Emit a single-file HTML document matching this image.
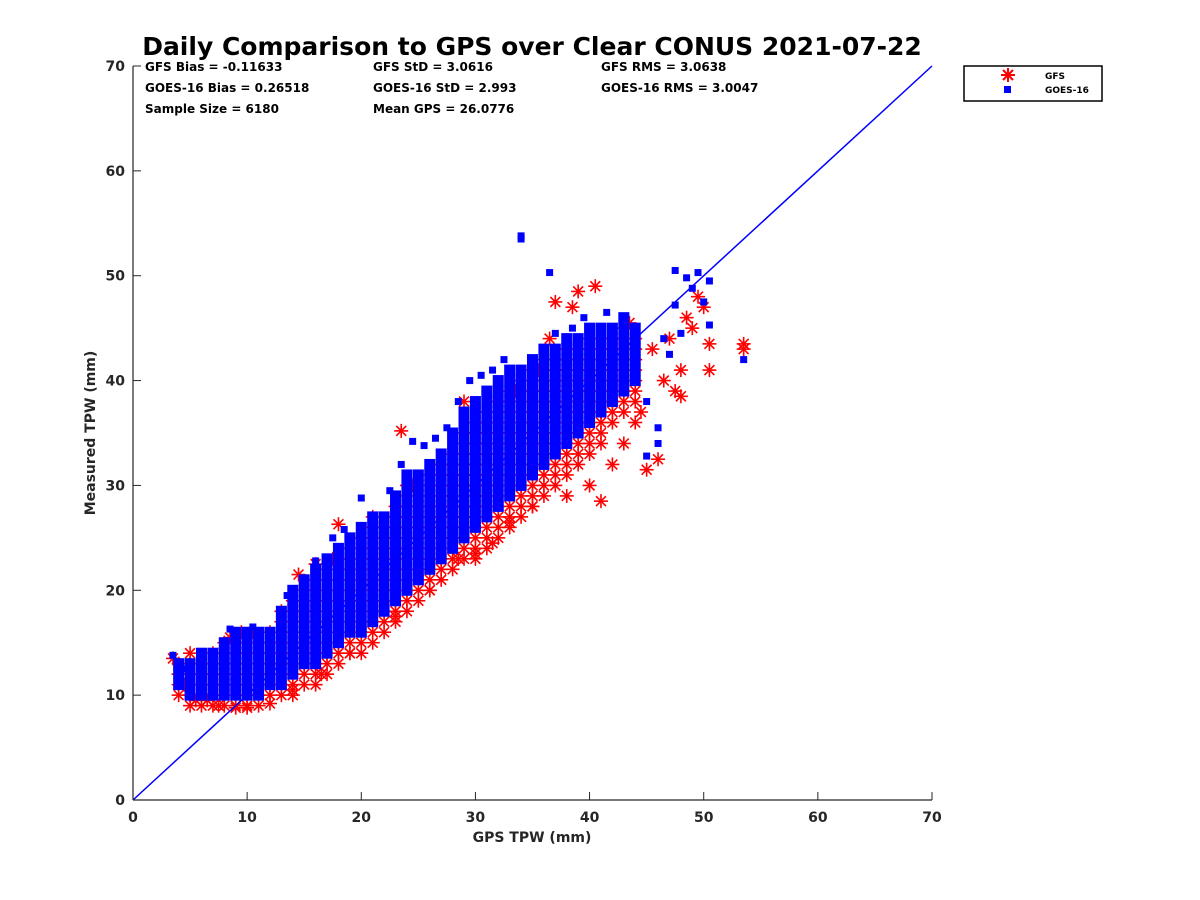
<!DOCTYPE html>
<html><head><meta charset="utf-8"><style>
body{margin:0;background:#fff;}
svg{display:block;font-family:"DejaVu Sans","Liberation Sans",sans-serif;font-weight:bold;}
</style></head><body>
<svg id="chart" width="1200" height="900" viewBox="0 0 1200 900" xmlns="http://www.w3.org/2000/svg">
<rect width="1200" height="900" fill="#fff"/>
<text x="532" y="55" font-size="25" text-anchor="middle" fill="#000">Daily Comparison to GPS over Clear CONUS 2021-07-22</text>
<g id="plot"></g>
<g id="axes"></g>
<g font-size="12" fill="#000">
<text x="145" y="71">GFS Bias = -0.11633</text>
<text x="145" y="92">GOES-16 Bias = 0.26518</text>
<text x="145" y="113">Sample Size = 6180</text>
<text x="373" y="71">GFS StD = 3.0616</text>
<text x="373" y="92">GOES-16 StD = 2.993</text>
<text x="373" y="113">Mean GPS = 26.0776</text>
<text x="601" y="71">GFS RMS = 3.0638</text>
<text x="601" y="92">GOES-16 RMS = 3.0047</text>
</g>
<g>
<rect x="964" y="66" width="138" height="35" fill="#fff" stroke="#000" stroke-width="1.5"/>
<g stroke="red" stroke-width="2">
<line x1="1008" y1="68" x2="1008" y2="82"/><line x1="1001" y1="75" x2="1015" y2="75"/><line x1="1003" y1="70" x2="1013" y2="80"/><line x1="1003" y1="80" x2="1013" y2="70"/></g>
<rect x="1004" y="86" width="7" height="7" fill="blue"/>
<text x="1045" y="79" font-size="9">GFS</text>
<text x="1045" y="93" font-size="9">GOES-16</text>
</g>
</svg>
<script>
const xTicks=[0,10,20,30,40,50,60,70];
const yTicks=[0,10,20,30,40,50,60,70];
// core dense band: [gps, [measured...]]
const gfsCore=[[4,[10,11,12,13]],[5,[9,10,11,12,13]],[6,[9,10,11,12,13]],[7,[9,10,11,12,13,14]],[8,[9,10,11,12,13,14,15]],[9,[9,10,11,12,13,14,15]],[10,[9,10,11,12,13,14,15]],[11,[9,10,11,12,13,14,15]],[12,[10,11,12,13,14,15,16]],[13,[10,11,12,13,14,15,16,17]],[14,[10,11,12,13,14,15,16,17,18,19]],[15,[11,12,13,14,15,16,17,18,19,20]],[16,[11,12,13,14,15,16,17,18,19,20,21]],[17,[12,13,14,15,16,17,18,19,20,21,22]],[18,[13,14,15,16,17,18,19,20,21,22,23]],[19,[14,15,16,17,18,19,20,21,22,23,24]],[20,[14,15,16,17,18,19,20,21,22,23,24,25]],[21,[15,16,17,18,19,20,21,22,23,24,25,26]],[22,[16,17,18,19,20,21,22,23,24,25,26]],[23,[17,18,19,20,21,22,23,24,25,26,27,28]],[24,[18,19,20,21,22,23,24,25,26,27,28,29,30]],[25,[19,20,21,22,23,24,25,26,27,28,29,30]],[26,[20,21,22,23,24,25,26,27,28,29,30,31]],[27,[21,22,23,24,25,26,27,28,29,30,31,32]],[28,[22,23,24,25,26,27,28,29,30,31,32,33]],[29,[23,24,25,26,27,28,29,30,31,32,33,34,35]],[30,[23,24,25,26,27,28,29,30,31,32,33,34,35,36]],[31,[24,25,26,27,28,29,30,31,32,33,34,35,36,37]],[32,[25,26,27,28,29,30,31,32,33,34,35,36,37,38]],[33,[26,27,28,29,30,31,32,33,34,35,36,37,38,39]],[34,[27,28,29,30,31,32,33,34,35,36,37,38,39,40]],[35,[28,29,30,31,32,33,34,35,36,37,38,39,40,41]],[36,[29,30,31,32,33,34,35,36,37,38,39,40,41,42]],[37,[30,31,32,33,34,35,36,37,38,39,40,41,42]],[38,[31,32,33,34,35,36,37,38,39,40,41,42,43]],[39,[32,33,34,35,36,37,38,39,40,41,42,43]],[40,[33,34,35,36,37,38,39,40,41,42,43,44]],[41,[34,35,36,37,38,39,40,41,42,43,44]],[42,[36,37,38,39,40,41,42,43,44]],[43,[37,38,39,40,41,42,43,44,45]],[44,[38,39,40,41,42,43,44]]];
const goesCore=[[4,[11,12,13]],[5,[10,11,12,13]],[6,[10,11,12,13,14]],[7,[10,11,12,13,14]],[8,[10,11,12,13,14,15]],[9,[10,11,12,13,14,15,16]],[10,[10,11,12,13,14,15,16]],[11,[10,11,12,13,14,15,16]],[12,[11,12,13,14,15,16]],[13,[11,12,13,14,15,16,17,18]],[14,[12,13,14,15,16,17,18,19,20]],[15,[13,14,15,16,17,18,19,20,21]],[16,[13,14,15,16,17,18,19,20,21,22]],[17,[14,15,16,17,18,19,20,21,22,23]],[18,[15,16,17,18,19,20,21,22,23,24]],[19,[16,17,18,19,20,21,22,23,24,25]],[20,[16,17,18,19,20,21,22,23,24,25,26]],[21,[17,18,19,20,21,22,23,24,25,26,27]],[22,[18,19,20,21,22,23,24,25,26,27]],[23,[19,20,21,22,23,24,25,26,27,28,29]],[24,[20,21,22,23,24,25,26,27,28,29,30,31]],[25,[21,22,23,24,25,26,27,28,29,30,31]],[26,[22,23,24,25,26,27,28,29,30,31,32]],[27,[23,24,25,26,27,28,29,30,31,32,33]],[28,[24,25,26,27,28,29,30,31,32,33,34,35]],[29,[25,26,27,28,29,30,31,32,33,34,35,36,37]],[30,[26,27,28,29,30,31,32,33,34,35,36,37,38]],[31,[27,28,29,30,31,32,33,34,35,36,37,38,39]],[32,[28,29,30,31,32,33,34,35,36,37,38,39,40]],[33,[29,30,31,32,33,34,35,36,37,38,39,40,41]],[34,[30,31,32,33,34,35,36,37,38,39,40,41]],[35,[31,32,33,34,35,36,37,38,39,40,41,42]],[36,[32,33,34,35,36,37,38,39,40,41,42,43]],[37,[33,34,35,36,37,38,39,40,41,42,43]],[38,[34,35,36,37,38,39,40,41,42,43,44]],[39,[35,36,37,38,39,40,41,42,43,44]],[40,[36,37,38,39,40,41,42,43,44,45]],[41,[37,38,39,40,41,42,43,44,45]],[42,[38,39,40,41,42,43,44,45]],[43,[39,40,41,42,43,44,45,46]],[44,[40,41,42,43,44,45]]];
// scattered edge points [gps, measured]
const gfsPts=[[3.5,13.5],[4,12],[4.5,11],[5,14],[5,10],[5.5,9.5],[6,12],[6.5,9.5],[7.5,9],[8.5,15.5],[9,8.8],[9.5,16],[10,8.8],[10.5,16],[12,9.2],[13,18],[14,10.5],[14.5,21.5],[16,22.5],[16.5,12],[17.5,23],[18,26.3],[19,14],[20,16],[21,27],[23,17.5],[23.5,35.2],[24.5,30],[26,20],[28.5,23],[29,38],[30,23.5],[31.5,24.5],[33,26.5],[33.5,39],[35,28],[35.5,41],[36.5,44],[37,47.5],[38,29],[38.5,47],[39,48.5],[40,30],[40.5,49],[41,28.5],[42,32],[42,44],[43,34],[43.5,45.5],[44,36],[44.5,37],[45,31.5],[45.5,43],[46,32.5],[46.5,40],[47,44],[47.5,39],[48,41],[48,38.5],[48.5,46],[49,45],[49.5,48],[50,47],[50.5,41],[50.5,43.5],[53.5,43.5],[53.5,43]];
const goesPts=[[3.5,13.8],[4.5,12.5],[8.5,16.3],[10.5,16.5],[13.5,19.5],[16,22.8],[17.5,25],[18.5,25.8],[20,28.8],[21,26.5],[22.5,29.5],[23.5,32],[24.5,34.2],[25.5,33.8],[26.5,34.5],[27.5,35.5],[28.5,38],[29.5,40],[30.5,40.5],[31.5,41],[32.5,42],[34,53.5],[34,53.8],[35,41],[36.5,50.3],[37,44.5],[38.5,45],[39.5,46],[41,42.5],[41.5,46.5],[44,40.5],[45,38],[45,32.8],[46,34],[46,35.5],[46.5,44],[47.5,50.5],[47.5,47.2],[48,44.5],[48.5,49.8],[49,48.8],[49.5,50.3],[50,47.5],[50.5,49.5],[50.5,45.3],[53.5,42],[47,42.5],[43,43.5]];

const X0=133,X1=932,Y0=800,Y1=66;
const sx=v=>X0+(v-0)/(70-0)*(X1-X0);
const sy=v=>Y0-(v-0)/(70-0)*(Y0-Y1);
const NS="http://www.w3.org/2000/svg";
const plot=document.getElementById('plot');
const axes=document.getElementById('axes');
function mk(tag,attrs,parent){const e=document.createElementNS(NS,tag);for(const k in attrs)e.setAttribute(k,attrs[k]);parent.appendChild(e);return e;}
function star(x,y,r,parent){
  const g=mk('g',{stroke:'red','stroke-width':1.6},parent);
  
  
  const d=r*0.707;
  mk('line',{x1:x-r,y1:y,x2:x+r,y2:y},g);mk('line',{x1:x,y1:y-r,x2:x,y2:y+r},g);
  mk('line',{x1:x-d,y1:y-d,x2:x+d,y2:y+d},g);mk('line',{x1:x-d,y1:y+d,x2:x+d,y2:y-d},g);
}
function sq(x,y,s,parent){
  const r=mk('rect',{x:x-s/2,y:y-s/2,width:s,height:s,fill:'blue'},parent);
  
  
}
gfsCore.forEach(([gx,ys])=>ys.forEach(v=>star(sx(gx),sy(v),7,plot)));
gfsPts.forEach(([gx,v])=>star(sx(gx),sy(v),7,plot));
goesCore.forEach(([gx,ys])=>ys.forEach(v=>sq(sx(gx),sy(v),11,plot)));
goesPts.forEach(([gx,v])=>sq(sx(gx),sy(v),7,plot));
const ref=mk('line',{x1:sx(0),y1:sy(0),x2:sx(70),y2:sy(70),stroke:'blue','stroke-width':1.5},plot);


// axes
const xa=mk('line',{x1:X0,y1:Y0,x2:X1,y2:Y0,stroke:'#262626','stroke-width':1.2},axes);


const ya=mk('line',{x1:X0,y1:Y0,x2:X0,y2:Y1,stroke:'#262626','stroke-width':1.2},axes);


xTicks.forEach(t=>{
  mk('line',{x1:sx(t),y1:Y0,x2:sx(t),y2:Y0-8,stroke:'#262626','stroke-width':1},axes);
  const tx=mk('text',{x:sx(t),y:Y0+22,'font-size':14,'text-anchor':'middle',fill:'#262626'},axes);
  tx.textContent=t;
  
  
});
yTicks.forEach(t=>{
  mk('line',{x1:X0,y1:sy(t),x2:X0+8,y2:sy(t),stroke:'#262626','stroke-width':1},axes);
  const tx=mk('text',{x:X0-8,y:sy(t)+5,'font-size':14,'text-anchor':'end',fill:'#262626'},axes);
  tx.textContent=t;
  
  
});
const xt=mk('text',{x:532,y:842,'font-size':14,'text-anchor':'middle',fill:'#262626'},axes);
xt.textContent='GPS TPW (mm)';


const yt=mk('text',{x:0,y:0,'font-size':14,'text-anchor':'middle',fill:'#262626',transform:'translate(95,433) rotate(-90)'},axes);
yt.textContent='Measured TPW (mm)';


</script>
</body></html>
